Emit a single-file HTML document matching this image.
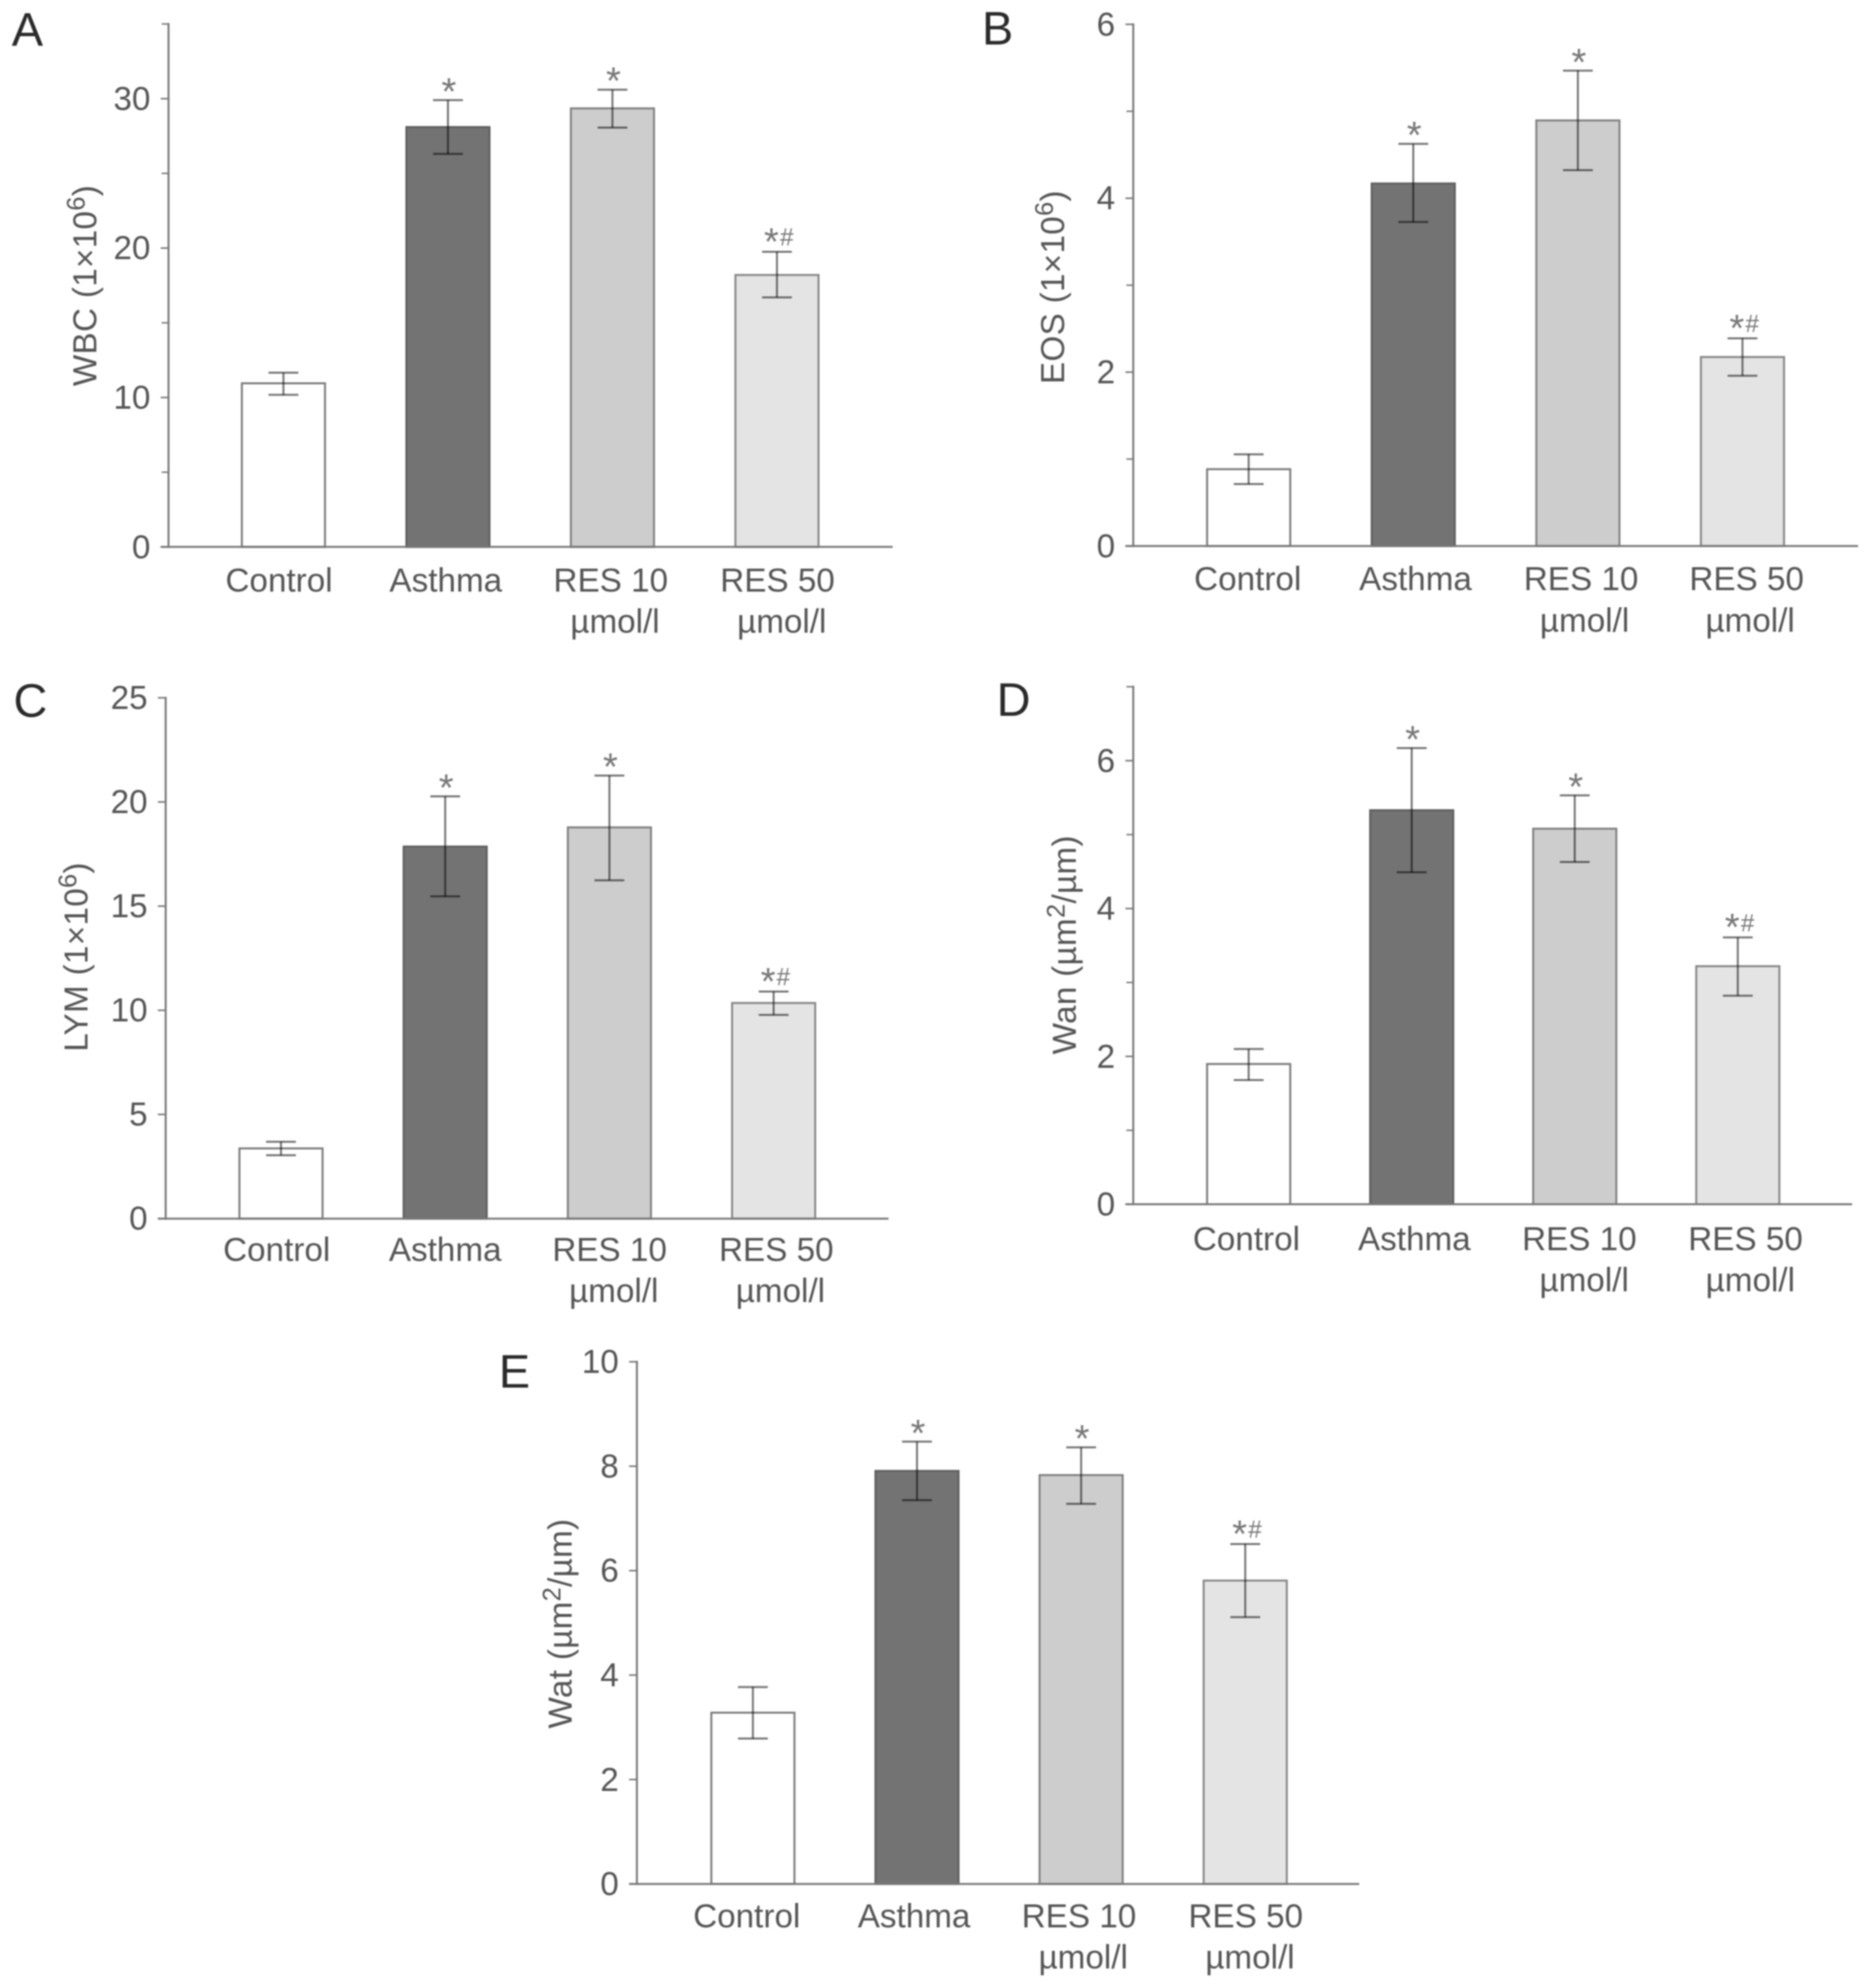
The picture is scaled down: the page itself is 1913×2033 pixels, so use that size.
<!DOCTYPE html>
<html lang="en">
<head>
<meta charset="utf-8">
<title>Resveratrol effects on airway inflammation and remodeling</title>
<style>
  html, body { margin: 0; padding: 0; background: #fff; }
  svg { display: block; filter: blur(0.8px); }
  text { font-family: "Liberation Sans", sans-serif; fill: #555; }
  .letter { font-size: 48px; fill: #2a2a2a; }
  .title { font-size: 34px; text-anchor: middle; letter-spacing: 0.3px; }
  .sup { font-size: 26px; }
</style>
</head>
<body>
<svg id="figure" xmlns="http://www.w3.org/2000/svg" width="1913" height="2033" viewBox="0 0 1913 2033">
  <rect width="1913" height="2033" fill="#fff"/>

  <g id="panel-a">
    <text class="letter" x="12" y="46.6">A</text>
    <text class="title" transform="translate(98.3 292) rotate(-90)">WBC (1×10<tspan class="sup" dy="-11.6">6</tspan><tspan dy="11.6">)</tspan></text>
  </g>
  <g id="panel-b">
    <text class="letter" x="1004" y="45.7">B</text>
    <text class="title" transform="translate(1088 293.6) rotate(-90)">EOS (1×10<tspan class="sup" dy="-11.6">6</tspan><tspan dy="11.6">)</tspan></text>
  </g>
  <g id="panel-c">
    <text class="letter" x="13.7" y="733">C</text>
    <text class="title" transform="translate(89.7 978.6) rotate(-90)">LYM (1×10<tspan class="sup" dy="-11.6">6</tspan><tspan dy="11.6">)</tspan></text>
  </g>
  <g id="panel-d">
    <text class="letter" x="1019" y="732.2">D</text>
    <text class="title" transform="translate(1100.2 966.2) rotate(-90)">Wan (µm<tspan class="sup" dy="-11.6">2</tspan><tspan dy="11.6">/µm)</tspan></text>
  </g>
  <g id="panel-e">
    <text class="letter" x="510" y="1419.1">E</text>
    <text class="title" transform="translate(584.4 1660.3) rotate(-90)">Wat (µm<tspan class="sup" dy="-11.6">2</tspan><tspan dy="11.6">/µm)</tspan></text>
  </g>
</svg>

<script>
// Shared categories and annotations
const categories = ['Control', 'Asthma', 'RES 10', 'RES 50'];
const categorySubLabels = ['', '', 'µmol/l', 'µmol/l'];
const significance = ['', '*', '*', '*#'];

// Panel A: WBC
const wbcValues = [10.95, 28.1, 29.35, 18.2];
const wbcUpper = [11.66, 29.9, 30.6, 19.75];
const wbcLower = [10.18, 26.3, 28.06, 16.7];
const wbcTicks = [0, 10, 20, 30];
const wbcMinorTicks = [5, 15, 25, 35];

// Panel B: EOS
const eosValues = [0.884, 4.17, 4.895, 2.174];
const eosUpper = [1.055, 4.626, 5.467, 2.389];
const eosLower = [0.713, 3.727, 4.323, 1.959];
const eosTicks = [0, 2, 4, 6];
const eosMinorTicks = [1, 3, 5];

// Panel C: LYM
const lymValues = [3.37, 17.86, 18.78, 10.35];
const lymUpper = [3.69, 20.27, 21.27, 10.9];
const lymLower = [3.04, 15.47, 16.24, 9.78];
const lymTicks = [0, 5, 10, 15, 20, 25];
const lymMinorTicks = [];

// Panel D: Wan
const wanValues = [1.897, 5.33, 5.08, 3.22];
const wanUpper = [2.1, 6.17, 5.53, 3.61];
const wanLower = [1.68, 4.49, 4.63, 2.82];
const wanTicks = [0, 2, 4, 6];
const wanMinorTicks = [1, 3, 5, 7];

// Panel E: Wat
const watValues = [3.28, 7.91, 7.83, 5.81];
const watUpper = [3.77, 8.47, 8.36, 6.51];
const watLower = [2.785, 7.35, 7.28, 5.11];
const watTicks = [0, 2, 4, 6, 8, 10];
const watMinorTicks = [];

// Panel geometry (layout only)
const panels = [
  { id: 'panel-a', values: wbcValues, upper: wbcUpper, lower: wbcLower, ticks: wbcTicks, minor: wbcMinorTicks,
    yMax: 35, axisX: 172.3, axisRight: 912.7, plotTop: 24.5, plotBottom: 559.3, firstBar: 247.3, pitch: 168.2,
    labelDx: [-4.5, -2.2, -1.7, 0.6], subDx: 4.3, labelBase: 605, subBase: 647 },
  { id: 'panel-b', values: eosValues, upper: eosUpper, lower: eosLower, ticks: eosTicks, minor: eosMinorTicks,
    yMax: 6, axisX: 1158.7, axisRight: 1899.8, plotTop: 24.9, plotBottom: 558.4, firstBar: 1234.2, pitch: 168.3,
    labelDx: [-1, 2.3, 3.3, 4.3], subDx: 3.5, labelBase: 603.6, subBase: 646.2 },
  { id: 'panel-c', values: lymValues, upper: lymUpper, lower: lymLower, ticks: lymTicks, minor: lymMinorTicks,
    yMax: 25, axisX: 169.4, axisRight: 908.5, plotTop: 713.6, plotBottom: 1246.2, firstBar: 244.8, pitch: 167.9,
    labelDx: [-4.4, 0, 0.2, 2.7], subDx: 4.2, labelBase: 1289.3, subBase: 1331.4 },
  { id: 'panel-d', values: wanValues, upper: wanUpper, lower: wanLower, ticks: wanTicks, minor: wanMinorTicks,
    yMax: 7, axisX: 1158.7, axisRight: 1893.7, plotTop: 702.3, plotBottom: 1231.5, firstBar: 1234.2, pitch: 166.7,
    labelDx: [-2.3, 2.7, 4.7, 7.9], subDx: 4.9, labelBase: 1278.4, subBase: 1320.5 },
  { id: 'panel-e', values: watValues, upper: watUpper, lower: watLower, ticks: watTicks, minor: watMinorTicks,
    yMax: 10, axisX: 651.2, axisRight: 1389.7, plotTop: 1392.6, plotBottom: 1926.6, firstBar: 727.3, pitch: 167.8,
    labelDx: [-6.3, -3, -2.2, 0.5], subDx: 4.3, labelBase: 1971, subBase: 2013.1 }
];

const BAR_WIDTH = 85;
const CAP_WIDTH = 30.5;
const TICK_MAJOR = 8;
const TICK_MINOR = 7;
const barFills = ['#ffffff', '#737373', '#cdcdcd', '#e4e4e4'];
const barStrokes = ['#7a7a7a', '#5e5e5e', '#7f7f7f', '#858585'];
const AXIS_COLOR = '#777';
const ERROR_COLOR = 'rgba(0,0,0,0.55)';

function svgEl(tag, parent, attrs) {
  const node = document.createElementNS('http://www.w3.org/2000/svg', tag);
  for (const key in attrs) { node.setAttribute(key, attrs[key]); }
  parent.appendChild(node);
  return node;
}

function drawPanel(p) {
  const root = document.getElementById(p.id);
  const scaleY = function (v) { return p.plotBottom - (v / p.yMax) * (p.plotBottom - p.plotTop); };
  const bandLeft = function (i) { return p.firstBar + i * p.pitch; };
  const bandCenter = function (i) { return bandLeft(i) + BAR_WIDTH / 2; };

  categories.forEach(function (name, i) {
    const bar = svgEl('rect', root, { x: bandLeft(i), y: scaleY(p.values[i]), width: BAR_WIDTH,
      height: scaleY(0) - scaleY(p.values[i]), fill: barFills[i], stroke: barStrokes[i], 'stroke-width': 2 });
    
    

    const stem = svgEl('line', root, { x1: bandCenter(i), x2: bandCenter(i), y1: scaleY(p.upper[i]), y2: scaleY(p.lower[i]),
      stroke: ERROR_COLOR, 'stroke-width': 2 });
    
    

    const capTop = svgEl('line', root, { x1: bandCenter(i) - CAP_WIDTH / 2, x2: bandCenter(i) + CAP_WIDTH / 2,
      y1: scaleY(p.upper[i]), y2: scaleY(p.upper[i]), stroke: ERROR_COLOR, 'stroke-width': 2 });
    
    

    const capBottom = svgEl('line', root, { x1: bandCenter(i) - CAP_WIDTH / 2, x2: bandCenter(i) + CAP_WIDTH / 2,
      y1: scaleY(p.lower[i]), y2: scaleY(p.lower[i]), stroke: ERROR_COLOR, 'stroke-width': 2 });
    
    

    const mark = significance[i];
    if (mark.indexOf('*') >= 0) {
      const hasHash = mark.indexOf('#') >= 0;
      const star = svgEl('text', root, { x: bandCenter(i) + (hasHash ? -5.7 : 1), y: scaleY(p.upper[i]) + (hasHash ? 3 : 4.5),
        'text-anchor': 'middle', 'font-size': 39, style: 'fill:#777' });
      star.textContent = '*';
      
      
    }
    if (mark.indexOf('#') >= 0) {
      const hash = svgEl('text', root, { x: bandCenter(i) + 10, y: scaleY(p.upper[i]) - 6.3,
        'text-anchor': 'middle', 'font-size': 25, style: 'fill:#777' });
      hash.textContent = '#';
      
      
    }

    const label = svgEl('text', root, { x: bandCenter(i) + p.labelDx[i], y: p.labelBase, 'text-anchor': 'middle', 'font-size': 34 });
    label.textContent = name;
    
    

    if (categorySubLabels[i]) {
      const sub = svgEl('text', root, { x: bandCenter(i) + p.labelDx[i] + p.subDx, y: p.subBase, 'text-anchor': 'middle', 'font-size': 34 });
      sub.textContent = categorySubLabels[i];
      
      
    }
  });

  const yAxis = svgEl('line', root, { x1: p.axisX, x2: p.axisX, y1: p.plotTop - 1, y2: p.plotBottom + 1, stroke: AXIS_COLOR, 'stroke-width': 2 });
  
  

  const xAxis = svgEl('line', root, { x1: p.axisX - TICK_MAJOR, x2: p.axisRight, y1: p.plotBottom, y2: p.plotBottom, stroke: AXIS_COLOR, 'stroke-width': 2 });
  
  

  p.ticks.forEach(function (t) {
    const tick = svgEl('line', root, { x1: p.axisX - TICK_MAJOR, x2: p.axisX, y1: scaleY(t), y2: scaleY(t), stroke: AXIS_COLOR, 'stroke-width': 1.6 });
    
    

    const tickLabel = svgEl('text', root, { x: p.axisX - 18.5, y: scaleY(t) + 11.5, 'text-anchor': 'end', 'font-size': 34 });
    tickLabel.textContent = String(t);
    
    
  });

  p.minor.forEach(function (t) {
    const minorTick = svgEl('line', root, { x1: p.axisX - TICK_MINOR, x2: p.axisX, y1: scaleY(t), y2: scaleY(t), stroke: AXIS_COLOR, 'stroke-width': 1.5 });
    
    
  });
}

panels.forEach(drawPanel);
</script>
</body>
</html>
